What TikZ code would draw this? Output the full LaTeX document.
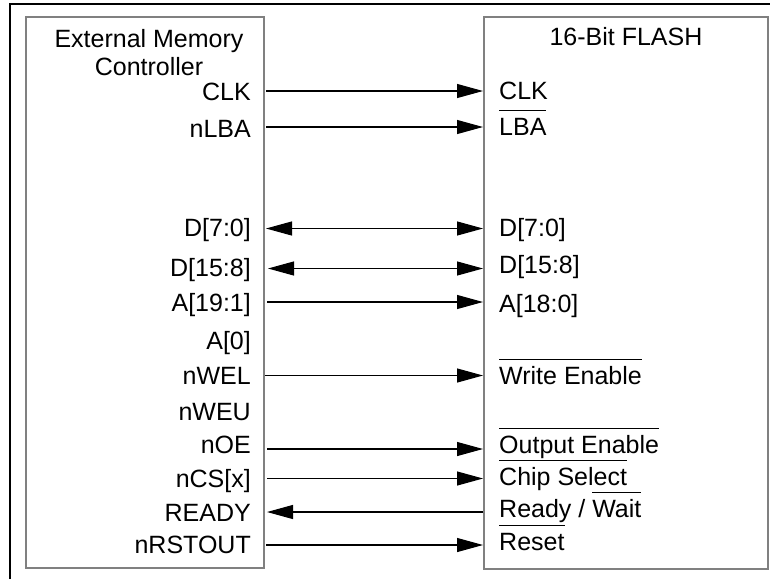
\documentclass[tikz,border=0pt]{standalone}
\usepackage{fontspec}
\setmainfont{Liberation Sans}
\usetikzlibrary{arrows.meta}
\newcommand\olin[1]{\setbox0\hbox{#1}\rlap{\rule[24pt]{\wd0}{1.5pt}}\box0}
\definecolor{boxgray}{RGB}{128,128,128}
\begin{document}
\begin{tikzpicture}[x=1pt,y=-1pt,
  lbl/.style={inner sep=0pt,font=\fontsize{25}{28}\selectfont},
  llbl/.style={lbl,anchor=base east},
  rlbl/.style={lbl,anchor=base west},
  blk/.style={draw=boxgray,line width=1.6pt},
  sig/.style={line width=1.1pt,-{Triangle[length=26pt,width=14pt]}},
  bisig/.style={line width=1.1pt,{Triangle[length=26pt,width=14pt]}-{Triangle[length=26pt,width=14pt]}}]
\useasboundingbox (0,0) rectangle (770,579);
% outer frame (cropped)
\draw[line width=2pt] (10,579) -- (10,4) -- (770,4);
% blocks
\node[blk,minimum width=238pt,minimum height=551pt,inner sep=0pt,anchor=north west] (emc) at (25,16) {};
\node[blk,minimum width=284pt,minimum height=552pt,inner sep=0pt,anchor=north west] (fl) at (483,16) {};
% titles
\node[lbl,anchor=base] (t1) at (149,47) {External Memory};
\node[lbl,anchor=base] (t2) at (149,75) {Controller};
\node[lbl,anchor=base] (t3) at (626,45) {16-Bit FLASH};
% left labels
\node[llbl] (lclk) at (251,100) {CLK};
\node[llbl] (llba) at (251,137) {nLBA};
\node[llbl] (ld0) at (251,236) {D[7:0]};
\node[llbl] (ld1) at (251,276) {D[15:8]};
\node[llbl] (la) at (251,311) {A[19:1]};
\node[llbl] (la0) at (251,349) {A[0]};
\node[llbl] (lwel) at (251,384) {nWEL};
\node[llbl] (lweu) at (251,420) {nWEU};
\node[llbl] (loe) at (251,453) {nOE};
\node[llbl] (lcs) at (251,487) {nCS[x]};
\node[llbl] (lrdy) at (251,521) {READY};
\node[llbl] (lrst) at (251,553) {nRSTOUT};
% right labels
\node[rlbl] (rclk) at (499,99) {CLK};
\node[rlbl] (rlba) at (499,135) {\olin{LBA}};
\node[rlbl] (rd0) at (499,236) {D[7:0]};
\node[rlbl] (rd1) at (499,273) {D[15:8]};
\node[rlbl] (ra) at (499,312) {A[18:0]};
\node[rlbl] (rwe) at (499,384) {\olin{Write Enable}};
\node[rlbl] (roe) at (499,453) {\olin{Output Enable}};
\node[rlbl] (rcs) at (499,485) {\olin{Chip Select}};
\node[rlbl] (rrdy) at (499,517) {Ready / \olin{Wait}};
\node[rlbl] (rrst) at (499,550) {\olin{Reset}};
% connector end points
\coordinate (aclk) at (266,91);   \coordinate (bclk) at (483,91);
\coordinate (alba) at (266,127);  \coordinate (blba) at (483,127);
\coordinate (ad0) at (266,228.5); \coordinate (bd0) at (483,228.5);
\coordinate (ad1) at (268,268.5); \coordinate (bd1) at (483,268.5);
\coordinate (aa) at (267,302);    \coordinate (ba) at (483,302);
\coordinate (awe) at (265,375.5); \coordinate (bwe) at (483,375.5);
\coordinate (aoe) at (267,449);   \coordinate (boe) at (483,449);
\coordinate (acs) at (267,478.5); \coordinate (bcs) at (483,478.5);
\coordinate (ardy) at (267,512);  \coordinate (brdy) at (483,512);
\coordinate (arst) at (266,545);  \coordinate (brst) at (483,545);
% connectors
\draw[sig] (aclk) -- (bclk);
\draw[sig] (alba) -- (blba);
\draw[bisig] (ad0) -- (bd0);
\draw[bisig] (ad1) -- (bd1);
\draw[sig] (aa) -- (ba);
\draw[sig] (awe) -- (bwe);
\draw[sig] (aoe) -- (boe);
\draw[sig] (acs) -- (bcs);
\draw[sig] (brdy) -- (ardy);
\draw[sig] (arst) -- (brst);
\end{tikzpicture}
\end{document}
